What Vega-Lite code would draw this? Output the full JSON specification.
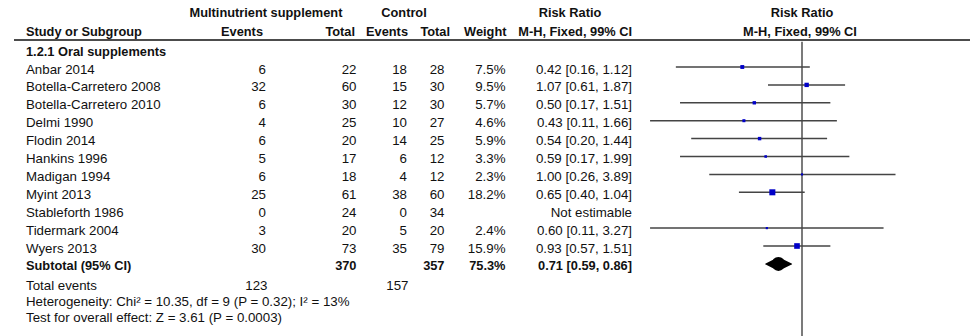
{
  "$schema": "https://vega.github.io/schema/vega-lite/v6.json",
  "width": 972,
  "height": 336,
  "padding": 0,
  "autosize": {"type": "none"},
  "background": "white",
  "config": {
    "view": {"stroke": null},
    "axis": {"disable": true},
    "legend": {"disable": true},
    "text": {"font": "Liberation Sans", "fontSize": 13.3, "color": "#111", "baseline": "middle"}
  },
  "datasets": {
    "studies": [
      {"study": "Anbar 2014", "r": 0, "e1": 6, "t1": 22, "e2": 18, "t2": 28, "weight": 0.075, "rr": 0.42, "lo": 0.16, "hi": 1.12, "ci": "0.42 [0.16, 1.12]"},
      {"study": "Botella-Carretero 2008", "r": 1, "e1": 32, "t1": 60, "e2": 15, "t2": 30, "weight": 0.095, "rr": 1.07, "lo": 0.61, "hi": 1.87, "ci": "1.07 [0.61, 1.87]"},
      {"study": "Botella-Carretero 2010", "r": 2, "e1": 6, "t1": 30, "e2": 12, "t2": 30, "weight": 0.057, "rr": 0.5, "lo": 0.17, "hi": 1.51, "ci": "0.50 [0.17, 1.51]"},
      {"study": "Delmi 1990", "r": 3, "e1": 4, "t1": 25, "e2": 10, "t2": 27, "weight": 0.046, "rr": 0.43, "lo": 0.11, "hi": 1.66, "ci": "0.43 [0.11, 1.66]"},
      {"study": "Flodin 2014", "r": 4, "e1": 6, "t1": 20, "e2": 14, "t2": 25, "weight": 0.059, "rr": 0.54, "lo": 0.2, "hi": 1.44, "ci": "0.54 [0.20, 1.44]"},
      {"study": "Hankins 1996", "r": 5, "e1": 5, "t1": 17, "e2": 6, "t2": 12, "weight": 0.033, "rr": 0.59, "lo": 0.17, "hi": 1.99, "ci": "0.59 [0.17, 1.99]"},
      {"study": "Madigan 1994", "r": 6, "e1": 6, "t1": 18, "e2": 4, "t2": 12, "weight": 0.023, "rr": 1.0, "lo": 0.26, "hi": 3.89, "ci": "1.00 [0.26, 3.89]"},
      {"study": "Myint 2013", "r": 7, "e1": 25, "t1": 61, "e2": 38, "t2": 60, "weight": 0.182, "rr": 0.65, "lo": 0.4, "hi": 1.04, "ci": "0.65 [0.40, 1.04]"},
      {"study": "Stableforth 1986", "r": 8, "e1": 0, "t1": 24, "e2": 0, "t2": 34, "weight": null, "rr": null, "lo": null, "hi": null, "ci": "Not estimable"},
      {"study": "Tidermark 2004", "r": 9, "e1": 3, "t1": 20, "e2": 5, "t2": 20, "weight": 0.024, "rr": 0.6, "lo": 0.11, "hi": 3.27, "ci": "0.60 [0.11, 3.27]"},
      {"study": "Wyers 2013", "r": 10, "e1": 30, "t1": 73, "e2": 35, "t2": 79, "weight": 0.159, "rr": 0.93, "lo": 0.57, "hi": 1.51, "ci": "0.93 [0.57, 1.51]"}
    ],
    "subtotal": [
      {"label": "Subtotal (95% CI)", "r": 11, "t1": 370, "t2": 357, "weight": 0.753, "rr": 0.71, "lo": 0.59, "hi": 0.86, "ci": "0.71 [0.59, 0.86]"}
    ],
    "totals": [
      {"label": "Total events", "r": 12, "e1": 123, "e2": 157}
    ],
    "notes": [
      {"r": 13, "text": "Heterogeneity: Chi² = 10.35, df = 9 (P = 0.32); I² = 13%"},
      {"r": 14, "text": "Test for overall effect: Z = 3.61 (P = 0.0003)"}
    ],
    "cols": [
      {"col": "e1", "c": 1},
      {"col": "t1", "c": 2},
      {"col": "e2", "c": 3},
      {"col": "t2", "c": 4}
    ]
  },
  "layer": [
    {
      "layer": [
        {
          "data": {"values": [{}]},
          "mark": {"type": "rule", "color": "#111", "strokeWidth": 1.6},
          "encoding": {
            "x": {"datum": -1, "type": "quantitative", "scale": {"type": "linear", "domain": [-1, 0, 1, 2, 3, 4, 5, 6, 7], "range": [14, 26, 266, 356.5, 407, 444.5, 505.5, 632, 970], "zero": false, "nice": false}, "axis": null},
            "x2": {"datum": 7},
            "y": {"datum": -1.585, "type": "quantitative", "scale": {"type": "linear", "domain": [-3, -2, -1, 0, 11, 12, 13, 14, 15], "range": [13.3, 31.7, 51.7, 69.5, 266.4, 286, 302, 318.3, 337], "zero": false, "nice": false}, "axis": null}
          }
        },
        {
          "data": {"name": "studies"},
          "mark": {"type": "text", "align": "left"},
          "encoding": {
            "x": {"datum": 0, "type": "quantitative"},
            "y": {"field": "r", "type": "quantitative"},
            "text": {"field": "study", "type": "nominal"}
          }
        },
        {
          "data": {"name": "studies"},
          "transform": [
            {"fold": ["e1", "t1", "e2", "t2"], "as": ["col", "val"]},
            {"lookup": "col", "from": {"data": {"name": "cols"}, "key": "col", "fields": ["c"]}}
          ],
          "mark": {"type": "text", "align": "right"},
          "encoding": {
            "x": {"field": "c", "type": "quantitative"},
            "y": {"field": "r", "type": "quantitative"},
            "text": {"field": "val", "type": "quantitative"}
          }
        },
        {
          "data": {"name": "studies"},
          "transform": [{"filter": "isValid(datum.weight)"}],
          "mark": {"type": "text", "align": "right"},
          "encoding": {
            "x": {"datum": 5, "type": "quantitative"},
            "y": {"field": "r", "type": "quantitative"},
            "text": {"field": "weight", "type": "quantitative", "format": ".1%"}
          }
        },
        {
          "data": {"name": "studies"},
          "mark": {"type": "text", "align": "right"},
          "encoding": {
            "x": {"datum": 6, "type": "quantitative"},
            "y": {"field": "r", "type": "quantitative"},
            "text": {"field": "ci", "type": "nominal"}
          }
        },
        {
          "data": {"name": "subtotal"},
          "mark": {"type": "text", "align": "left", "fontWeight": "bold", "fontSize": 12.8},
          "encoding": {
            "x": {"datum": 0, "type": "quantitative"},
            "y": {"field": "r", "type": "quantitative"},
            "text": {"field": "label", "type": "nominal"}
          }
        },
        {
          "data": {"name": "subtotal"},
          "transform": [
            {"fold": ["t1", "t2"], "as": ["col", "val"]},
            {"lookup": "col", "from": {"data": {"name": "cols"}, "key": "col", "fields": ["c"]}}
          ],
          "mark": {"type": "text", "align": "right", "fontWeight": "bold", "fontSize": 12.8},
          "encoding": {
            "x": {"field": "c", "type": "quantitative"},
            "y": {"field": "r", "type": "quantitative"},
            "text": {"field": "val", "type": "quantitative"}
          }
        },
        {
          "data": {"name": "subtotal"},
          "mark": {"type": "text", "align": "right", "fontWeight": "bold", "fontSize": 12.8},
          "encoding": {
            "x": {"datum": 5, "type": "quantitative"},
            "y": {"field": "r", "type": "quantitative"},
            "text": {"field": "weight", "type": "quantitative", "format": ".1%"}
          }
        },
        {
          "data": {"name": "subtotal"},
          "mark": {"type": "text", "align": "right", "fontWeight": "bold", "fontSize": 12.8},
          "encoding": {
            "x": {"datum": 6, "type": "quantitative"},
            "y": {"field": "r", "type": "quantitative"},
            "text": {"field": "ci", "type": "nominal"}
          }
        },
        {
          "data": {"name": "totals"},
          "mark": {"type": "text", "align": "left"},
          "encoding": {
            "x": {"datum": 0, "type": "quantitative"},
            "y": {"field": "r", "type": "quantitative"},
            "text": {"field": "label", "type": "nominal"}
          }
        },
        {
          "data": {"name": "totals"},
          "transform": [
            {"fold": ["e1", "e2"], "as": ["col", "val"]},
            {"lookup": "col", "from": {"data": {"name": "cols"}, "key": "col", "fields": ["c"]}}
          ],
          "mark": {"type": "text", "align": "right", "dx": 1.5},
          "encoding": {
            "x": {"field": "c", "type": "quantitative"},
            "y": {"field": "r", "type": "quantitative"},
            "text": {"field": "val", "type": "quantitative"}
          }
        },
        {
          "data": {"name": "notes"},
          "mark": {"type": "text", "align": "left"},
          "encoding": {
            "x": {"datum": 0, "type": "quantitative"},
            "y": {"field": "r", "type": "quantitative"},
            "text": {"field": "text", "type": "nominal"}
          }
        },
        {
          "data": {"values": [{}]},
          "mark": {"type": "text", "align": "center", "fontWeight": "bold", "fontSize": 12.8},
          "encoding": {"x": {"datum": 1, "type": "quantitative"}, "y": {"datum": -3, "type": "quantitative"}, "text": {"value": "Multinutrient supplement"}}
        },
        {
          "data": {"values": [{}]},
          "mark": {"type": "text", "align": "center", "fontWeight": "bold", "fontSize": 12.8, "dx": -3},
          "encoding": {"x": {"datum": 3, "type": "quantitative"}, "y": {"datum": -3, "type": "quantitative"}, "text": {"value": "Control"}}
        },
        {
          "data": {"values": [{}]},
          "mark": {"type": "text", "align": "center", "fontWeight": "bold", "fontSize": 12.8, "dx": -62},
          "encoding": {"x": {"datum": 6, "type": "quantitative"}, "y": {"datum": -3, "type": "quantitative"}, "text": {"value": "Risk Ratio"}}
        },
        {
          "data": {"values": [{}]},
          "mark": {"type": "text", "align": "left", "fontWeight": "bold", "fontSize": 12.8},
          "encoding": {"x": {"datum": 0, "type": "quantitative"}, "y": {"datum": -2, "type": "quantitative"}, "text": {"value": "Study or Subgroup"}}
        },
        {
          "data": {"values": [{}]},
          "mark": {"type": "text", "align": "right", "fontWeight": "bold", "fontSize": 12.8, "dx": -3},
          "encoding": {"x": {"datum": 1, "type": "quantitative"}, "y": {"datum": -2, "type": "quantitative"}, "text": {"value": "Events"}}
        },
        {
          "data": {"values": [{}]},
          "mark": {"type": "text", "align": "right", "fontWeight": "bold", "fontSize": 12.8, "dx": -1.5},
          "encoding": {"x": {"datum": 2, "type": "quantitative"}, "y": {"datum": -2, "type": "quantitative"}, "text": {"value": "Total"}}
        },
        {
          "data": {"values": [{}]},
          "mark": {"type": "text", "align": "right", "fontWeight": "bold", "fontSize": 12.8, "dx": 1},
          "encoding": {"x": {"datum": 3, "type": "quantitative"}, "y": {"datum": -2, "type": "quantitative"}, "text": {"value": "Events"}}
        },
        {
          "data": {"values": [{}]},
          "mark": {"type": "text", "align": "right", "fontWeight": "bold", "fontSize": 12.8, "dx": 5.5},
          "encoding": {"x": {"datum": 4, "type": "quantitative"}, "y": {"datum": -2, "type": "quantitative"}, "text": {"value": "Total"}}
        },
        {
          "data": {"values": [{}]},
          "mark": {"type": "text", "align": "right", "fontWeight": "bold", "fontSize": 12.8, "dx": 1},
          "encoding": {"x": {"datum": 5, "type": "quantitative"}, "y": {"datum": -2, "type": "quantitative"}, "text": {"value": "Weight"}}
        },
        {
          "data": {"values": [{}]},
          "mark": {"type": "text", "align": "right", "fontWeight": "bold", "fontSize": 12.8},
          "encoding": {"x": {"datum": 6, "type": "quantitative"}, "y": {"datum": -2, "type": "quantitative"}, "text": {"value": "M-H, Fixed, 99% CI"}}
        },
        {
          "data": {"values": [{}]},
          "mark": {"type": "text", "align": "left", "fontWeight": "bold", "fontSize": 12.8},
          "encoding": {"x": {"datum": 0, "type": "quantitative"}, "y": {"datum": -1, "type": "quantitative"}, "text": {"value": "1.2.1 Oral supplements"}}
        }
      ]
    },
    {
      "layer": [
        {
          "data": {"values": [{}]},
          "mark": {"type": "rule", "color": "#5a5a5a", "strokeWidth": 1.6},
          "encoding": {
            "x": {"datum": 1, "type": "quantitative", "scale": {"type": "log", "domain": [0.1, 10], "range": [643.5, 960.5], "nice": false}, "axis": null},
            "y": {"datum": -1.5, "type": "quantitative"},
            "y2": {"datum": 15}
          }
        },
        {
          "data": {"name": "studies"},
          "transform": [{"filter": "isValid(datum.lo)"}],
          "mark": {"type": "rule", "color": "#444", "strokeWidth": 1.5, "yOffset": -2.5},
          "encoding": {
            "x": {"field": "lo", "type": "quantitative"},
            "x2": {"field": "hi"},
            "y": {"field": "r", "type": "quantitative"}
          }
        },
        {
          "data": {"name": "studies"},
          "transform": [{"filter": "isValid(datum.rr)"}],
          "mark": {"type": "point", "shape": "square", "filled": true, "color": "#0000c8", "opacity": 1, "yOffset": -2.5},
          "encoding": {
            "x": {"field": "rr", "type": "quantitative"},
            "y": {"field": "r", "type": "quantitative"},
            "size": {"field": "weight", "type": "quantitative", "scale": {"type": "linear", "domain": [0, 0.2], "range": [0, 40]}, "legend": null}
          }
        },
        {
          "data": {"name": "subtotal"},
          "transform": [
            {"fold": ["lo", "rr", "hi"], "as": ["k", "v"]},
            {"lookup": "k", "from": {"data": {"values": [{"k": "lo", "w": 0}, {"k": "rr", "w": 1}, {"k": "hi", "w": 0}]}, "key": "k", "fields": ["w"]}}
          ],
          "mark": {"type": "trail", "color": "#000", "opacity": 1, "yOffset": -2.5},
          "encoding": {
            "x": {"field": "v", "type": "quantitative"},
            "y": {"field": "r", "type": "quantitative"},
            "size": {"field": "w", "type": "quantitative", "scale": {"type": "linear", "domain": [0, 1], "range": [0, 14]}, "legend": null}
          }
        },
        {
          "data": {"values": [{}]},
          "mark": {"type": "text", "align": "center", "fontWeight": "bold", "fontSize": 12.8},
          "encoding": {"x": {"datum": 1, "type": "quantitative"}, "y": {"datum": -3, "type": "quantitative"}, "text": {"value": "Risk Ratio"}}
        },
        {
          "data": {"values": [{}]},
          "mark": {"type": "text", "align": "center", "fontWeight": "bold", "fontSize": 12.8, "dx": -2},
          "encoding": {"x": {"datum": 1, "type": "quantitative"}, "y": {"datum": -2, "type": "quantitative"}, "text": {"value": "M-H, Fixed, 99% CI"}}
        }
      ],
      "resolve": {"scale": {"size": "independent"}}
    }
  ],
  "resolve": {"scale": {"x": "independent", "size": "independent"}}
}
